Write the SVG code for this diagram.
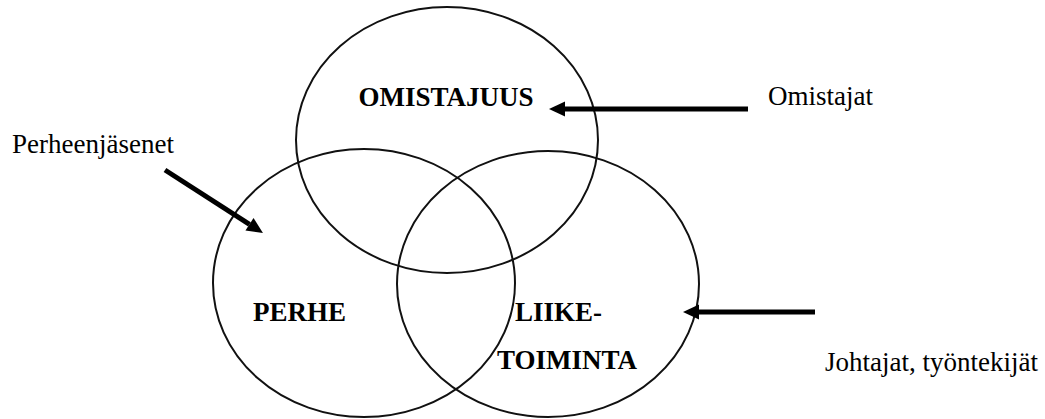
<svg xmlns="http://www.w3.org/2000/svg" width="1045" height="419" viewBox="0 0 1045 419">
<style>
.c{fill:none;stroke:#111;stroke-width:2}
.b{font-family:"Liberation Serif","Times New Roman",serif;font-weight:bold;font-size:27px;fill:#000}
.r{font-family:"Liberation Serif","Times New Roman",serif;font-size:27px;fill:#000}
.a{stroke:#000;stroke-width:5;fill:none;marker-end:url(#h)}
</style>
<defs>
<marker id="h" markerUnits="userSpaceOnUse" markerWidth="16" markerHeight="15" refX="0" refY="7.5" orient="auto" overflow="visible">
<path d="M0,0 L16,7.5 L0,15 z" fill="#000"/>
</marker>
</defs>
<rect width="1045" height="419" fill="#fff"/>
<g id="omistajuus">
<ellipse class="c" cx="447" cy="140" rx="151" ry="133"/>
<text class="b" x="446" y="106" text-anchor="middle">OMISTAJUUS</text>
</g>
<g id="perhe">
<ellipse class="c" cx="364" cy="283" rx="151" ry="134"/>
<text class="b" x="253" y="321">PERHE</text>
</g>
<g id="liiketoiminta">
<ellipse class="c" cx="548" cy="284" rx="151" ry="133"/>
<text class="b" x="515" y="321">LIIKE-</text>
<text class="b" x="497" y="369">TOIMINTA</text>
</g>
<g id="omistajat">
<text class="r" x="768" y="105">Omistajat</text>
</g>
<g id="perheenjasenet">
<text class="r" x="12" y="153">Perheenjäsenet</text>
</g>
<g id="johtajat">
<text class="r" x="825" y="371">Johtajat, työntekijät</text>
</g>
<g id="connectors">
<line class="a" x1="748" y1="109" x2="565" y2="109"/>
<line class="a" x1="165" y1="170" x2="249.5" y2="224.3"/>
<line class="a" x1="815" y1="312" x2="699" y2="312"/>
</g>
</svg>
